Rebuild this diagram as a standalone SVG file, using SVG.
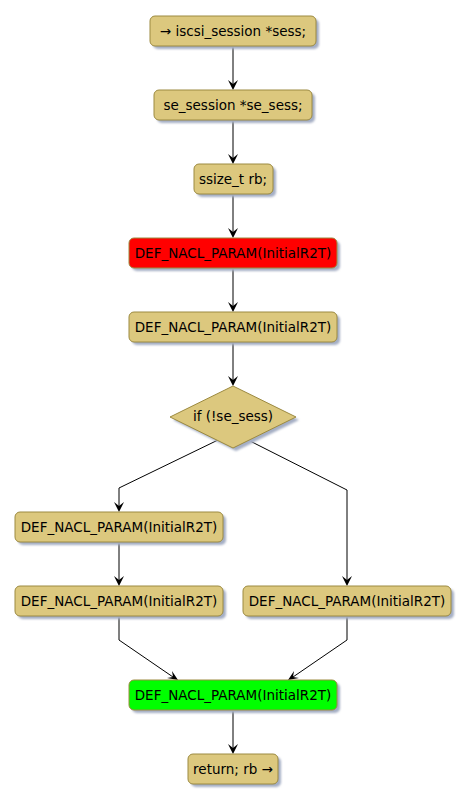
<svg xmlns="http://www.w3.org/2000/svg" width="469" height="803" viewBox="0 0 469 803">
<style>
.n{fill:#dcc87e;stroke:#9c8a40;stroke-width:1}
.s{fill:#a4aec4}
.t{font-family:"DejaVu Sans",sans-serif;font-size:13.5px;fill:#000;text-anchor:middle}
.c{fill:none;stroke:#000;stroke-width:1}
</style>
<defs>
<filter id="sh" x="-10%" y="-10%" width="130%" height="150%"><feGaussianBlur stdDeviation="1"/></filter>
</defs>
<rect width="469" height="803" fill="#fff"/>
<g id="connectors">
<path class="c" d="M233 46V84M233 120V158M233 194V232M233 268V306M233 342V380M218 440L119 488V506M248 440L347 490V580M119 542V580M119 616V640L173 677M347 616V640L293 677M233 710V748"/>
<g fill="#000">
<polygon points="233,90 228,80 233,84 238,80"/>
<polygon points="233,164 228,154 233,158 238,154"/>
<polygon points="233,238 228,228 233,232 238,228"/>
<polygon points="233,312 228,302 233,306 238,302"/>
<polygon points="233,386 228,376 233,380 238,376"/>
<polygon points="119,512 114,502 119,506 124,502"/>
<polygon points="347,586 342,576 347,580 352,576"/>
<polygon points="119,586 114,576 119,580 124,576"/>
<polygon points="178,680 167,678 173,677 172,671"/>
<polygon points="288,680 294,671 293,677 299,678"/>
<polygon points="233,754 228,744 233,748 238,744"/>
</g>
</g>
<g id="n1"><rect class="s" x="153" y="19" width="166" height="30" rx="5" filter="url(#sh)"/><rect class="n" x="150" y="16" width="166" height="30" rx="5"/><text class="t" x="233" y="36">→ iscsi_session *sess;</text></g>
<g id="n2"><rect class="s" x="157" y="93" width="158" height="30" rx="5" filter="url(#sh)"/><rect class="n" x="154" y="90" width="158" height="30" rx="5"/><text class="t" x="233" y="110">se_session *se_sess;</text></g>
<g id="n3"><rect class="s" x="197" y="167" width="79" height="30" rx="5" filter="url(#sh)"/><rect class="n" x="194" y="164" width="79" height="30" rx="5"/><text class="t" x="233" y="184">ssize_t rb;</text></g>
<g id="n4"><rect class="s" x="132" y="241" width="208" height="30" rx="5" filter="url(#sh)"/><rect class="n" style="fill:#ff0000" x="129" y="238" width="208" height="30" rx="5"/><text class="t" x="233" y="258">DEF_NACL_PARAM(InitialR2T)</text></g>
<g id="n5"><rect class="s" x="132" y="315" width="208" height="30" rx="5" filter="url(#sh)"/><rect class="n" x="129" y="312" width="208" height="30" rx="5"/><text class="t" x="233" y="332">DEF_NACL_PARAM(InitialR2T)</text></g>
<g id="d1"><polygon class="s" points="236,389 299,420 236,451 173,420" filter="url(#sh)"/><polygon class="n" points="233,386 296,417 233,448 170,417"/><text class="t" x="233" y="421">if (!se_sess)</text></g>
<g id="n6"><rect class="s" x="18" y="515" width="208" height="30" rx="5" filter="url(#sh)"/><rect class="n" x="15" y="512" width="208" height="30" rx="5"/><text class="t" x="119" y="532">DEF_NACL_PARAM(InitialR2T)</text></g>
<g id="n7"><rect class="s" x="18" y="589" width="208" height="30" rx="5" filter="url(#sh)"/><rect class="n" x="15" y="586" width="208" height="30" rx="5"/><text class="t" x="119" y="606">DEF_NACL_PARAM(InitialR2T)</text></g>
<g id="n8"><rect class="s" x="246" y="589" width="208" height="30" rx="5" filter="url(#sh)"/><rect class="n" x="243" y="586" width="208" height="30" rx="5"/><text class="t" x="347" y="606">DEF_NACL_PARAM(InitialR2T)</text></g>
<g id="n9"><rect class="s" x="132" y="683" width="208" height="30" rx="5" filter="url(#sh)"/><rect class="n" style="fill:#00ff00" x="129" y="680" width="208" height="30" rx="5"/><text class="t" x="233" y="700">DEF_NACL_PARAM(InitialR2T)</text></g>
<g id="n10"><rect class="s" x="191" y="757" width="90" height="30" rx="5" filter="url(#sh)"/><rect class="n" x="188" y="754" width="90" height="30" rx="5"/><text class="t" x="233" y="774">return; rb →</text></g>
</svg>
